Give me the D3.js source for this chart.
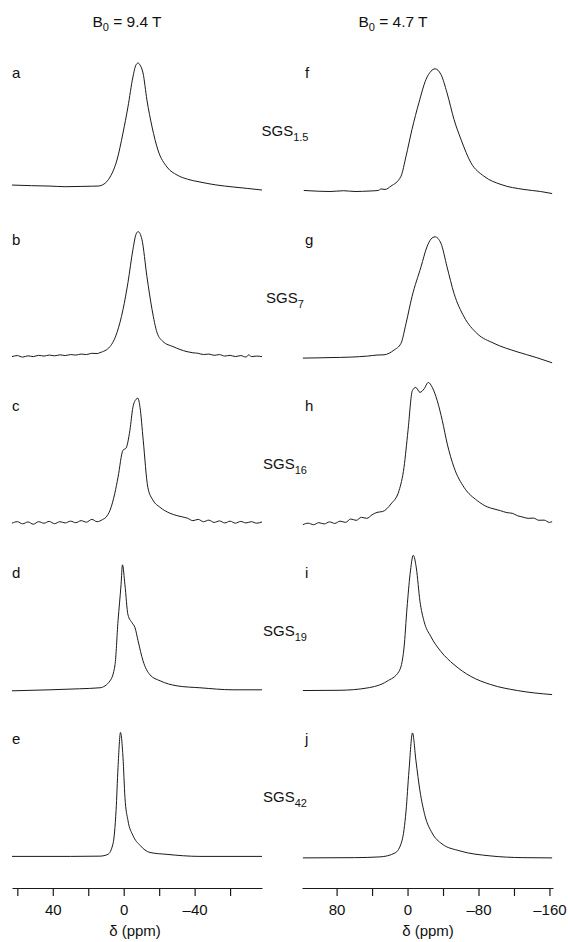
<!DOCTYPE html>
<html>
<head>
<meta charset="utf-8">
<script src="https://cdn.jsdelivr.net/npm/d3@7"></script>
<style>
  html, body { margin: 0; padding: 0; background: #fff; }
  svg { display: block; font-family: "Liberation Sans", Arial, sans-serif; }
  .trace { fill: none; stroke: #1a1a1a; stroke-width: 1; }
  .axis path, .axis line { stroke: #1a1a1a; stroke-width: 1.2; }
  .axis text { font-size: 15px; fill: #111; }
</style>
</head>
<body>
<div id="chart"></div>
<script>
// field strengths, sample names and panel letters
const fieldTitles = ["9.4", "4.7"];
const sampleSubs = ["1.5", "7", "16", "19", "42"];
const leftLetters = ["a", "b", "c", "d", "e"];
const rightLetters = ["f", "g", "h", "i", "j"];

// chemical shift axes (ppm)
const leftDomain = [63, -78];
const rightDomain = [119, -164];
const leftTicks = [60, 40, 20, 0, -20, -40, -60];
const leftTickLabels = [40, 0, -40];
const rightTicks = [80, 40, 0, -40, -80, -120, -160];
const rightTickLabels = [80, 0, -80, -160];

// spectra: [ppm, intensity]
const spectrumA = [
  [63, 0.039], [52, 0.034], [41.6, 0.031], [33, 0.026], [24.6, 0.028], [18, 0.03], [14.5, 0.031],
  [11.1, 0.047], [7.7, 0.102], [3.8, 0.236], [0.4, 0.449], [-2.4, 0.654], [-5.2, 0.89],
  [-6.9, 0.984], [-8.1, 1.0], [-9.2, 0.984], [-10.9, 0.921], [-13.1, 0.709], [-16, 0.496],
  [-19.3, 0.315], [-24.4, 0.181], [-30.1, 0.118], [-36, 0.085], [-43, 0.063], [-52, 0.04],
  [-61.6, 0.024], [-70, 0.012], [-78, 0]
];
const spectrumB = [
  [63, 0], [60, 0.008], [57, -0.004], [54, 0.006], [51, 0], [48, 0.01], [45, 0.004],
  [42, 0.012], [39, 0.006], [36, 0.014], [33, 0.008], [30, 0.016], [27, 0.012], [24, 0.02],
  [21, 0.016], [18, 0.026], [15, 0.024], [13.4, 0.031], [7.7, 0.079], [3.8, 0.189],
  [0.4, 0.37], [-2.4, 0.583], [-5.2, 0.843], [-6.9, 0.961], [-8.1, 0.984], [-9.2, 0.969],
  [-10.3, 0.921], [-13.1, 0.63], [-16, 0.37], [-18.8, 0.189], [-22.2, 0.118], [-27.8, 0.079],
  [-35.7, 0.039], [-39, 0.03], [-42, 0.026], [-45, 0.016], [-48, 0.02], [-51, 0.01],
  [-54, 0.016], [-57, 0.004], [-60, 0.01], [-63, 0], [-66, 0.008], [-69, -0.004],
  [-70.5, 0.014], [-72, 0], [-75, 0.004], [-78, 0]
];
const spectrumC = [
  [63, 0], [60, 0.012], [57, -0.005], [54, 0.01], [51, -0.008], [48, 0.012], [45, 0],
  [42, 0.014], [39, -0.004], [36, 0.012], [33, 0.002], [30, 0.016], [27, 0.004], [24, 0.02],
  [21, 0.008], [18, 0.03], [15, 0.012], [12, 0.028], [10, 0.047], [7.7, 0.102], [5, 0.236],
  [3.2, 0.362], [0.4, 0.575], [-1.3, 0.591], [-3.5, 0.732], [-5.2, 0.913], [-7, 0.976],
  [-8, 0.984], [-9.2, 0.913], [-11, 0.654], [-13.6, 0.283], [-16.5, 0.181], [-20.4, 0.126],
  [-26, 0.079], [-30, 0.06], [-33, 0.05], [-36, 0.039], [-39, 0.02], [-42, 0.03],
  [-45, 0.012], [-48, 0.024], [-51, 0.006], [-54, 0.018], [-57, 0.002], [-60, 0.016],
  [-63, 0], [-66, 0.014], [-69, 0.002], [-72, 0.012], [-75, 0], [-78, 0.01]
];
const spectrumD = [
  [63, -0.008], [41.6, 0], [25, 0.008], [13.4, 0.016], [7.7, 0.071], [4.9, 0.197],
  [3.2, 0.543], [1.5, 0.827], [0.7, 0.984], [-0.7, 0.827], [-2.4, 0.591], [-4.7, 0.528],
  [-6.4, 0.488], [-8.1, 0.386], [-10.9, 0.228], [-14.8, 0.118], [-20.5, 0.071],
  [-30.1, 0.031], [-43, 0.016], [-61.6, 0], [-78, 0]
];
const spectrumE = [
  [63, 0], [30, 0], [13.4, 0.002], [8.9, 0.016], [6, 0.102], [4.3, 0.362], [3.2, 0.701],
  [1.8, 0.976], [0.4, 0.78], [-0.7, 0.465], [-2.4, 0.283], [-5.2, 0.165], [-9.2, 0.087],
  [-14.8, 0.031], [-24.4, 0.016], [-43, 0], [-78, 0]
];
const spectrumF = [
  [117, 0.008], [100, 0.002], [87.4, 0], [72, 0.006], [59.2, 0], [42.3, 0.004],
  [33, 0.008], [29.9, 0.02], [25.4, 0.016], [18.7, 0.042], [7.4, 0.12], [1.7, 0.278],
  [-5, 0.488], [-12.9, 0.701], [-20.8, 0.882], [-26.4, 0.947], [-31, 0.966], [-37.7, 0.921],
  [-44.5, 0.777], [-52.4, 0.567], [-60.3, 0.409], [-71.5, 0.226], [-86.2, 0.12],
  [-105.4, 0.055], [-131.3, 0.016], [-150, 0], [-163, -0.016]
];
const spectrumG = [
  [118, 0], [100, 0.002], [87.4, 0.004], [63.8, 0.008], [45, 0.016], [34.4, 0.024],
  [26.5, 0.026], [15.3, 0.063], [7.4, 0.116], [1.7, 0.273], [-5, 0.483], [-15.2, 0.719],
  [-21.9, 0.876], [-26.4, 0.937], [-31, 0.955], [-37.7, 0.903], [-44.5, 0.719],
  [-52.4, 0.509], [-63.7, 0.325], [-78.3, 0.194], [-97.5, 0.116], [-123.4, 0.05],
  [-145, 0.005], [-163, -0.037]
];
const spectrumH = [
  [118, 0], [112, 0.012], [106, 0], [100, 0.016], [94, 0.006], [88, 0.022], [82, 0.01],
  [76, 0.028], [70, 0.018], [64, 0.045], [58, 0.034], [52, 0.058], [46, 0.05], [40, 0.078],
  [34.4, 0.097], [28, 0.104], [18.7, 0.163], [9.6, 0.268], [4, 0.451], [-0.5, 0.74],
  [-5.4, 1.055], [-9.2, 1.081], [-14, 1.042], [-18.6, 1.069], [-23.4, 1.12], [-27.9, 1.081],
  [-33.5, 0.976], [-39.2, 0.819], [-44.8, 0.635], [-52.4, 0.451], [-63.7, 0.294],
  [-78.7, 0.189], [-90, 0.14], [-97.5, 0.124], [-105, 0.11], [-112, 0.095], [-118, 0.09],
  [-123.8, 0.071], [-130, 0.06], [-136, 0.05], [-142, 0.052], [-148, 0.035], [-154, 0.036],
  [-160, 0.018], [-163, 0.025]
];
const spectrumI = [
  [118, 0.006], [76.2, 0.008], [45.7, 0.026], [23.2, 0.079], [9.6, 0.157], [4, 0.341],
  [0.6, 0.656], [-2.8, 0.919], [-6.5, 1.071], [-9.9, 0.971], [-14, 0.709], [-18.6, 0.551],
  [-26.1, 0.433], [-37.4, 0.315], [-52.4, 0.21], [-71.2, 0.118], [-93.8, 0.053],
  [-123.8, 0.006], [-163, -0.026]
];
const spectrumJ = [
  [118, 0], [60, 0.002], [31, 0.008], [14.1, 0.039], [6.3, 0.134], [1.7, 0.37],
  [-1.6, 0.685], [-5.6, 0.984], [-9.5, 0.764], [-14, 0.528], [-19.7, 0.331], [-27.6, 0.197],
  [-38.9, 0.11], [-59.1, 0.055], [-93, 0.016], [-130, 0.002], [-163, 0]
];

const leftSpectra = [spectrumA, spectrumB, spectrumC, spectrumD, spectrumE];
const rightSpectra = [spectrumF, spectrumG, spectrumH, spectrumI, spectrumJ];

const width = 568;
const height = 942;
const rowStep = 166.6;
const rowHeight = 127;
const leftBase = 190;
const rightBase = 191.5;
const axisY = 888;

const svg = d3.select("#chart")
  .append("svg")
  .attr("width", width)
  .attr("height", height);

const xLeft = d3.scaleLinear().domain(leftDomain).range([12, 262]);
const xRight = d3.scaleLinear().domain(rightDomain).range([302, 553]);

function drawColumn(spectra, x, base) {
  spectra.forEach((data, i) => {
    const y = d3.scaleLinear()
      .domain([0, 1])
      .range([base + i * rowStep, base + i * rowStep - rowHeight]);

    const line = d3.line()
      .x((d) => x(d[0]))
      .y((d) => y(d[1]))
      .curve(d3.curveMonotoneX);

    svg.append("path")
      .attr("class", "trace")
      .attr("d", line(data));
  });
}

drawColumn(leftSpectra, xLeft, leftBase);
drawColumn(rightSpectra, xRight, rightBase);

// panel letters
function drawLetters(letters, xPos) {
  svg.append("g")
    .selectAll("text")
    .data(letters)
    .join("text")
    .attr("x", xPos)
    .attr("y", (d, i) => 78 + i * rowStep)
    .attr("font-size", 15)
    .attr("fill", "#111")
    .text((d) => d);
}
drawLetters(leftLetters, 12);
drawLetters(rightLetters, 305);

// sample names with subscripts
const names = svg.append("g")
  .selectAll("text")
  .data(sampleSubs)
  .join("text")
  .attr("x", 285)
  .attr("y", (d, i) => 136 + i * rowStep)
  .attr("text-anchor", "middle")
  .attr("font-size", 15)
  .attr("fill", "#111");
names.append("tspan").text("SGS");
names.append("tspan")
  .attr("font-size", 11)
  .attr("dy", 5)
  .text((d) => d);

// field strength titles
const titles = svg.append("g")
  .selectAll("text")
  .data(fieldTitles)
  .join("text")
  .attr("x", (d, i) => (i === 0 ? 127 : 393))
  .attr("y", 27)
  .attr("text-anchor", "middle")
  .attr("font-size", 15.5)
  .attr("fill", "#111");
titles.append("tspan").text("B");
titles.append("tspan").attr("font-size", 11).attr("dy", 4).text("0");
titles.append("tspan").attr("dy", -4).text((d) => ` = ${d} T`);

// axes
function formatPpm(labels) {
  return (d) => {
    if (!labels.includes(d)) return "";
    return d < 0 ? `\u2013${Math.abs(d)}` : `${d}`;
  };
}

svg.append("g")
  .attr("class", "axis")
  .attr("transform", `translate(0,${axisY})`)
  .call(d3.axisBottom(xLeft)
    .tickValues(leftTicks)
    .tickFormat(formatPpm(leftTickLabels))
    .tickSize(8)
    .tickSizeOuter(0)
    .tickPadding(8));

svg.append("g")
  .attr("class", "axis")
  .attr("transform", `translate(0,${axisY})`)
  .call(d3.axisBottom(xRight)
    .tickValues(rightTicks)
    .tickFormat(formatPpm(rightTickLabels))
    .tickSize(8)
    .tickSizeOuter(0)
    .tickPadding(8));

svg.selectAll(".axis text").attr("font-family", null);

svg.append("g")
  .selectAll("text")
  .data([135, 428])
  .join("text")
  .attr("x", (d) => d)
  .attr("y", 936)
  .attr("text-anchor", "middle")
  .attr("font-size", 15)
  .attr("fill", "#111")
  .text("\u03b4 (ppm)");
</script>
</body>
</html>
